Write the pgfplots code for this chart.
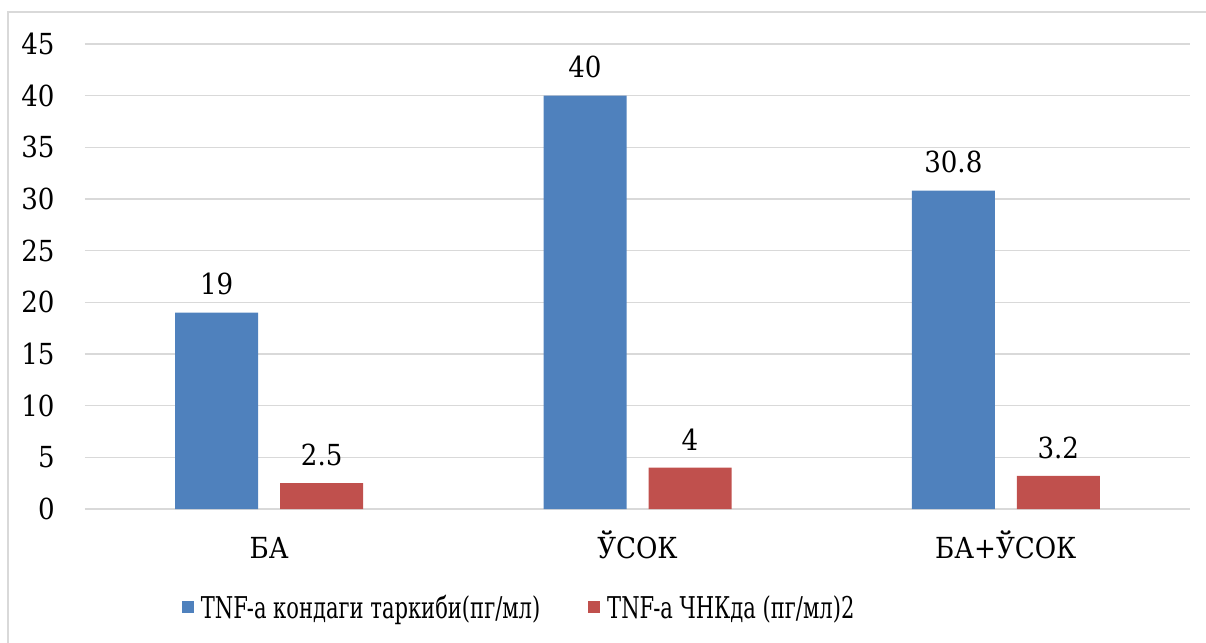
\documentclass[border=0pt]{standalone}
\usepackage{fontspec}
\setmainfont{DejaVu Serif Condensed}
\newfontfamily\legfont{DejaVu Serif Condensed}[FakeStretch=0.78]
\usepackage{pgfplots}
\pgfplotsset{compat=1.18}
\definecolor{sblue}{HTML}{4F81BD}
\definecolor{sred}{HTML}{C0504D}
\definecolor{gridc}{HTML}{D9D9D9}
\begin{document}
\begin{tikzpicture}
\useasboundingbox (-42.5pt,-67pt) rectangle (560.5pt,254.5pt);
\draw[gridc, line width=0.75pt] (-38.5pt,-70pt) -- (-38.5pt,248.5pt) -- (565pt,248.5pt);
\begin{axis}[
  at={(0,0)}, anchor=south west,
  scale only axis,
  width=552.5pt, height=232.5pt,
  ymin=0, ymax=45, ytick={0,5,...,45},
  xmin=-0.5, xmax=2.5,
  xtick={0,1,2},
  xticklabels={БА, ЎСОК, БА+ЎСОК},
  axis line style={draw=none},
  major tick length=0pt,
  ymajorgrids, grid style={gridc, line width=0.65pt},
  /pgf/number format/assume math mode=true,
  font=\fontsize{14.5}{17}\selectfont,
  yticklabel style={inner sep=0pt, xshift=-15pt, anchor=east},
  xticklabel style={inner sep=0pt, text height=10.3pt, text depth=0pt, anchor=north, yshift=-14pt},
  ybar, bar width=41.5pt,
  nodes near coords,
  every node near coord/.append style={font=\fontsize{14.5}{17}\selectfont, inner sep=0pt, anchor=south, yshift=8.5pt, black},
  legend columns=2,
  legend style={draw=none, at={(0.392,-0.211)}, anchor=center, font=\legfont\fontsize{15}{17}\selectfont,
    /tikz/every even column/.append style={column sep=24pt},
    nodes={inner sep=0pt, text depth=0pt}},
  legend image code/.code={\fill[#1] (0pt,-3pt) rectangle (6pt,3pt);},
  legend cell align=left,
]
\addplot[fill=sblue, draw=none, bar shift=-26.25pt] coordinates {(0,19) (1,40) (2,30.8)};
\addplot[fill=sred, draw=none, bar shift=26.25pt] coordinates {(0,2.5) (1,4) (2,3.2)};
\legend{\hspace{3.5pt}TNF-a кондаги таркиби(пг/мл), \hspace{3.5pt}TNF-a ЧНКда (пг/мл)2}
\end{axis}
\end{tikzpicture}
\end{document}
